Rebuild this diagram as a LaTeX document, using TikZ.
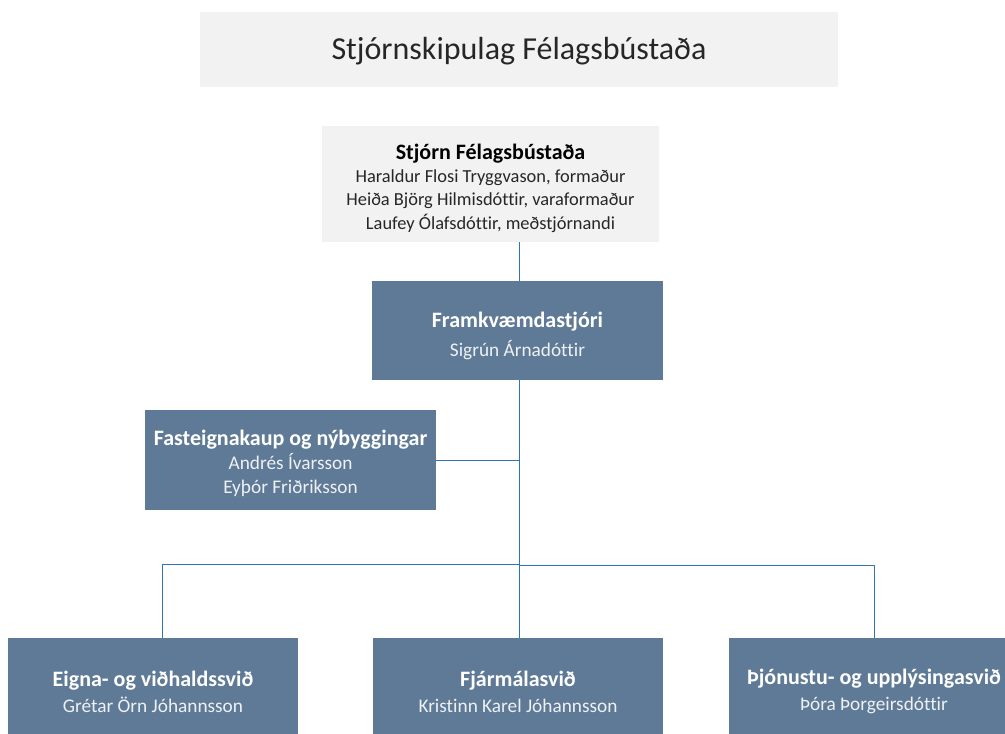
\documentclass[tikz,border=0pt]{standalone}
\usepackage{fontspec}
\setmainfont{Carlito}[Ligatures={NoCommon}]
\definecolor{lightbg}{HTML}{F2F2F2}
\definecolor{boxblue}{HTML}{5F7A96}
\definecolor{linkblue}{HTML}{2E75B6}
\definecolor{nametxt}{HTML}{EEF1F4}
\begin{document}
\begin{tikzpicture}[x=1pt,y=-1pt,
  lightbox/.style={rectangle, fill=lightbg, inner sep=0pt},
  darkbox/.style={rectangle, fill=boxblue, inner sep=0pt},
  darktext/.style={inner sep=0pt, align=center, text=nametxt},
  lighttext/.style={inner sep=0pt, align=center, text=black!85},
  link/.style={draw=linkblue, line width=1pt}]
\useasboundingbox (0,0) rectangle (1005,734);
\clip (0,0) rectangle (1005,734);
% boxes
\node[lightbox, minimum width=638pt, minimum height=75pt] (title) at (519,49.5) {};
\node[lightbox, minimum width=337pt, minimum height=116pt] (board) at (490.5,184) {};
\node[darkbox, minimum width=291pt, minimum height=99pt] (framk) at (517.5,330.5) {};
\node[darkbox, minimum width=291pt, minimum height=100pt] (fast) at (290.5,460) {};
\node[darkbox, minimum width=290pt, minimum height=100pt] (eigna) at (153,688) {};
\node[darkbox, minimum width=290pt, minimum height=100pt] (fjar) at (518,688) {};
\node[darkbox, minimum width=290pt, minimum height=100pt] (thjon) at (874,688) {};
% texts
\node[lighttext, font=\fontsize{32}{36}\selectfont] (title-t) at ([yshift=-1.5pt]title.center) {Stjórnskipulag Félagsbústaða};
\node[lighttext, font=\fontsize{18.4}{23.4}\selectfont] (board-t) at ([yshift=-4pt]board.center)
 {{\bfseries\fontsize{22}{26}\selectfont\color{black} Stjórn Félagsbústaða}\\Haraldur Flosi Tryggvason, formaður\\Heiða Björg Hilmisdóttir, varaformaður\\Laufey Ólafsdóttir, meðstjórnandi};
\node[darktext, font=\fontsize{19.3}{29}\selectfont] (framk-t) at ([yshift=-5pt]framk.center)
 {{\bfseries\fontsize{22}{26}\selectfont\color{white} Framkvæmdastjóri}\\Sigrún Árnadóttir};
\node[darktext, font=\fontsize{19.3}{24}\selectfont] (fast-t) at ([yshift=-3pt]fast.center)
 {{\bfseries\fontsize{22}{26}\selectfont\color{white} Fasteignakaup og nýbyggingar}\\Andrés Ívarsson\\Eyþór Friðriksson};
\node[darktext, font=\fontsize{19.3}{26}\selectfont] (eigna-t) at ([yshift=-3.5pt]eigna.center)
 {{\bfseries\fontsize{22}{26}\selectfont\color{white} Eigna- og viðhaldssvið}\\Grétar Örn Jóhannsson};
\node[darktext, font=\fontsize{19.3}{26}\selectfont] (fjar-t) at ([yshift=-3.5pt]fjar.center)
 {{\bfseries\fontsize{22}{26}\selectfont\color{white} Fjármálasvið}\\Kristinn Karel Jóhannsson};
\node[darktext, font=\fontsize{19.3}{26}\selectfont] (thjon-t) at ([yshift=-3.5pt]thjon.center)
 {{\bfseries\fontsize{22}{26}\selectfont\color{white} Þjónustu- og upplýsingasvið}\\Þóra Þorgeirsdóttir};
% connectors
\coordinate (trunk) at (519.5,565);
\coordinate (lbend) at (162,564);
\draw[link] (board.south -| trunk) -- (framk.north -| trunk);
\draw[link] (framk.south -| trunk) -- (trunk);
\draw[link] (fast.east) -- (fast.east -| trunk);
\draw[link] (trunk |- lbend) -- (lbend) -- (lbend |- eigna.north);
\draw[link] (trunk) -- (fjar.north -| trunk);
\draw[link] (trunk) -| (thjon.north);
\end{tikzpicture}
\end{document}
